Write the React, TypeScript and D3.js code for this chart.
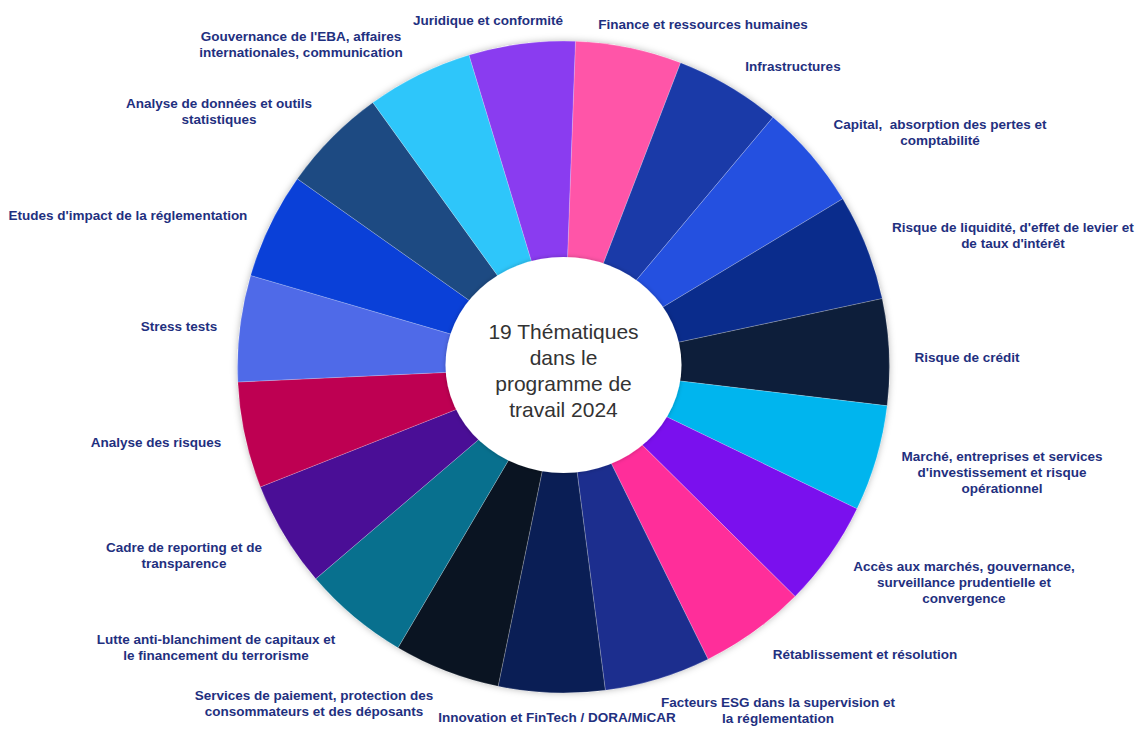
import React from "react";
import * as d3 from "d3";

// ---- data ----
const categories: string[] = [
  "Finance et ressources humaines",
  "Infrastructures",
  "Capital,  absorption des pertes et\ncomptabilité",
  "Risque de liquidité, d'effet de levier et\nde taux d'intérêt",
  "Risque de crédit",
  "Marché, entreprises et services\nd'investissement et risque\nopérationnel",
  "Accès aux marchés, gouvernance,\nsurveillance prudentielle et\nconvergence",
  "Rétablissement et résolution",
  "Facteurs ESG dans la supervision et\nla réglementation",
  "Innovation et FinTech / DORA/MiCAR",
  "Services de paiement, protection des\nconsommateurs et des déposants",
  "Lutte anti-blanchiment de capitaux et\nle financement du terrorisme",
  "Cadre de reporting et de\ntransparence",
  "Analyse des risques",
  "Stress tests",
  "Etudes d'impact de la réglementation",
  "Analyse de données et outils\nstatistiques",
  "Gouvernance de l'EBA, affaires\ninternationales, communication",
  "Juridique et conformité",
];

const values: number[] = [1, 1, 1, 1, 1, 1, 1, 1, 1, 1, 1, 1, 1, 1, 1, 1, 1, 1, 1];

const colors: string[] = [
  "#FF55A8", "#1A3AA8", "#2450E0", "#0A2C8C", "#0D1E3A",
  "#00B5EE", "#7A10EE", "#FF2E9A", "#1C2E8E", "#0A1E55",
  "#0A1422", "#08708E", "#4A0E96", "#BE0052", "#4F6AE8",
  "#0A40D8", "#1D4A82", "#2EC6FA", "#8A3CF0",
];

const centerLines: string[] = ["19 Thématiques", "dans le", "programme de", "travail 2024"];

// ---- layout (label block centres) ----
const labelAnchors: [number, number][] = [
  [703, 24], [793, 66], [940, 132], [1013, 235], [967, 357],
  [1002, 472], [964, 582], [865, 654], [778, 710], [557, 717],
  [314, 703], [216, 647], [184, 555], [156, 442], [179, 326],
  [128, 215], [219, 111], [301, 44], [488, 20],
];

const W = 1141;
const H = 731;
const CX = 563.5;
const CY = 367;
const R = 326;
const START = (2.1 * Math.PI) / 180;

export default function App() {
  const pie = d3
    .pie<number>()
    .sort(null)
    .value((d) => d)
    .startAngle(START)
    .endAngle(START + 2 * Math.PI);
  const arcs = pie(values);
  const arc = d3.arc<d3.PieArcDatum<number>>().innerRadius(0).outerRadius(R);
  const lineH = 16;

  return (
    <svg
      width={W}
      height={H}
      style={{ position: "absolute", left: 0, top: 0, background: "#fff" }}
    >
      <defs>
        <filter id="glow" x="-20%" y="-20%" width="140%" height="140%">
          <feDropShadow dx="0" dy="0" stdDeviation="3.5" floodColor="#000" floodOpacity="0.28" />
        </filter>
        <filter id="glow2" x="-20%" y="-20%" width="140%" height="140%">
          <feDropShadow dx="0" dy="0" stdDeviation="2" floodColor="#000" floodOpacity="0.25" />
        </filter>
      </defs>
      <rect width={W} height={H} fill="#fff" />
      <circle cx={CX} cy={CY} r={R} fill="#fff" filter="url(#glow)" />
      <g transform={`translate(${CX},${CY})`}>
        {arcs.map((a, i) => (
          <path
            key={i}
            d={arc(a) || ""}
            fill={colors[i]}
            stroke="#ffffff"
            strokeOpacity={0.25}
            strokeWidth={0.8}
          />
        ))}
      </g>
      <ellipse cx={CX} cy={365} rx={118} ry={108} fill="#fff" filter="url(#glow2)" />
      <g
        fontFamily="'Liberation Sans', Arial, sans-serif"
        fontSize={21}
        fill="#333333"
        textAnchor="middle"
      >
        {centerLines.map((t, i) => (
          <text key={i} x={CX} y={339 + i * 26}>
            {t}
          </text>
        ))}
      </g>
      <g
        fontFamily="'Liberation Sans', Arial, sans-serif"
        fontSize={13.5}
        fontWeight="bold"
        fill="#1F3080"
        textAnchor="middle"
      >
        {categories.map((c, i) => {
          const lines = c.split("\n");
          const [x, y] = labelAnchors[i];
          const y0 = y - ((lines.length - 1) * lineH) / 2;
          return (
            <text key={i} x={x} y={y0} dominantBaseline="central" style={{ whiteSpace: "pre" }}>
              {lines.map((l, j) => (
                <tspan key={j} x={x} y={y0 + j * lineH}>
                  {l}
                </tspan>
              ))}
            </text>
          );
        })}
      </g>
    </svg>
  );
}
